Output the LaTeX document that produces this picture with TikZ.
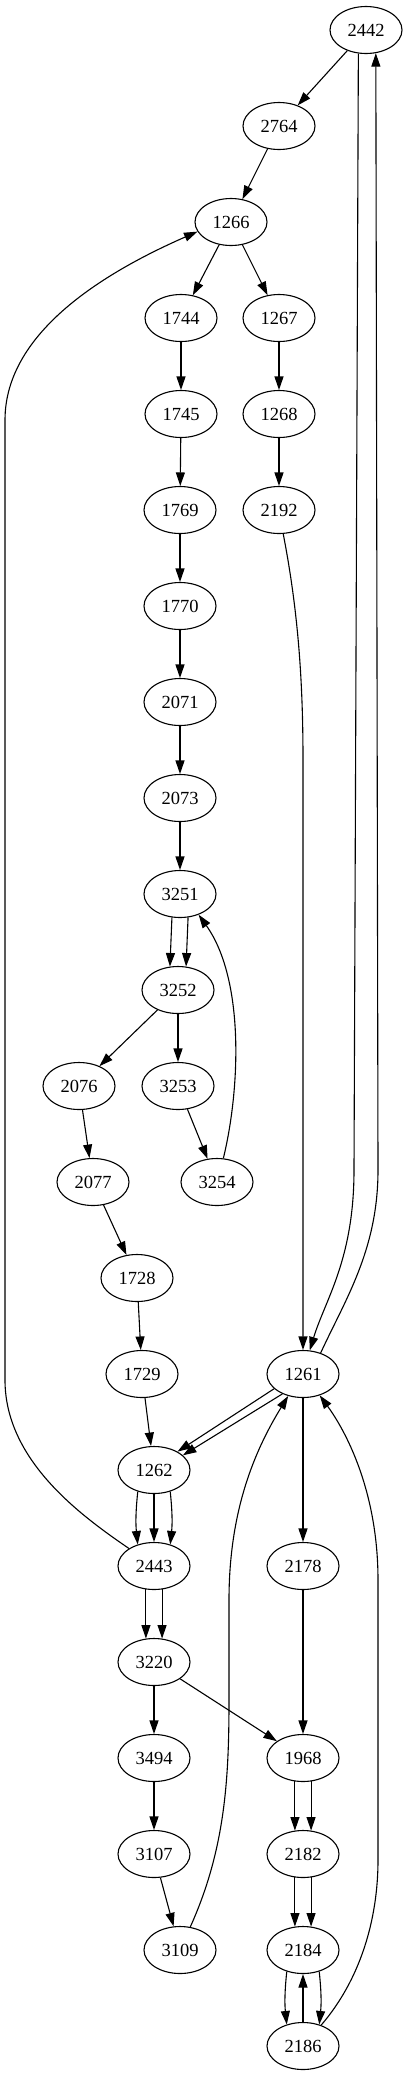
\documentclass[tikz,border=0pt]{standalone}
\usepackage{fontspec}
\setmainfont{Liberation Serif}
\usetikzlibrary{shapes.geometric,arrows.meta}
\begin{document}
\begin{tikzpicture}[x=1pt,y=-1pt,
  nd/.style={ellipse,draw,line width=1.1pt,minimum width=72pt,minimum height=47pt,inner sep=0pt,font=\fontsize{18.5}{22}\selectfont},
  arr/.style={-{Triangle[length=13.5pt,width=9pt]},line width=1.1pt}]
\useasboundingbox (0,0) rectangle (409,2075);
\node[nd] (n2442) at (366,30) {2442};
\node[nd] (n2764) at (279,126) {2764};
\node[nd] (n1266) at (231,222) {1266};
\node[nd] (n1744) at (181,318) {1744};
\node[nd] (n1267) at (279,318) {1267};
\node[nd] (n1745) at (181,414) {1745};
\node[nd] (n1268) at (279,414) {1268};
\node[nd] (n1769) at (180,510) {1769};
\node[nd] (n2192) at (279,510) {2192};
\node[nd] (n1770) at (180,606) {1770};
\node[nd] (n2071) at (180,702) {2071};
\node[nd] (n2073) at (180,798) {2073};
\node[nd] (n3251) at (180,894) {3251};
\node[nd] (n3252) at (178,990) {3252};
\node[nd] (n2076) at (79,1086) {2076};
\node[nd] (n3253) at (178,1086) {3253};
\node[nd] (n2077) at (93,1182) {2077};
\node[nd] (n3254) at (217,1182) {3254};
\node[nd] (n1728) at (137,1278) {1728};
\node[nd] (n1729) at (142,1374) {1729};
\node[nd] (n1261) at (303,1374) {1261};
\node[nd] (n1262) at (154,1470) {1262};
\node[nd] (n2443) at (154,1566) {2443};
\node[nd] (n2178) at (303,1566) {2178};
\node[nd] (n3220) at (154,1662) {3220};
\node[nd] (n3494) at (154,1758) {3494};
\node[nd] (n1968) at (303,1758) {1968};
\node[nd] (n3107) at (154,1854) {3107};
\node[nd] (n2182) at (303,1854) {2182};
\node[nd] (n3109) at (180,1950) {3109};
\node[nd] (n2184) at (303,1950) {2184};
\node[nd] (n2186) at (303,2046) {2186};
% straight edges
\draw[arr] (n2442) -- (n2764);
\draw[arr] (n2764) -- (n1266);
\draw[arr] (n1266) -- (n1744);
\draw[arr] (n1266) -- (n1267);
\draw[arr] (n1744) -- (n1745);
\draw[arr] (n1745) -- (n1769);
\draw[arr] (n1769) -- (n1770);
\draw[arr] (n1770) -- (n2071);
\draw[arr] (n2071) -- (n2073);
\draw[arr] (n2073) -- (n3251);
\draw[arr] (n1267) -- (n1268);
\draw[arr] (n1268) -- (n2192);
\draw[arr] (n3251.251) -- (n3252.109);
\draw[arr] (n3251.289) -- (n3252.71);
\draw[arr] (n3252) -- (n2076);
\draw[arr] (n3252) -- (n3253);
\draw[arr] (n3253) -- (n3254);
\draw[arr] (n2076) -- (n2077);
\draw[arr] (n2077) -- (n1728);
\draw[arr] (n1728) -- (n1729);
\draw[arr] (n1729) -- (n1262);
\draw[arr] (n1261.207) -- (n1262.38);
\draw[arr] (n1261.224) -- (n1262.27);
\draw[arr] (n1262.233) to[bend right=6] (n2443.127);
\draw[arr] (n1262.south) -- (n2443.north);
\draw[arr] (n1262.307) to[bend left=6] (n2443.53);
\draw[arr] (n2443.251) -- (n3220.109);
\draw[arr] (n2443.289) -- (n3220.71);
\draw[arr] (n1261) -- (n2178);
\draw[arr] (n2178) -- (n1968);
\draw[arr] (n3220) -- (n1968);
\draw[arr] (n3220) -- (n3494);
\draw[arr] (n3494) -- (n3107);
\draw[arr] (n3107) -- (n3109);
\draw[arr] (n1968.251) -- (n2182.109);
\draw[arr] (n1968.289) -- (n2182.71);
\draw[arr] (n2182.251) -- (n2184.109);
\draw[arr] (n2182.289) -- (n2184.71);
\draw[arr] (n2184.233) to[bend right=6] (n2186.127);
\draw[arr] (n2184.307) to[bend left=6] (n2186.53);
\draw[arr] (n2186) -- (n2184);
% curved edges
\draw[arr] (n2192.280) .. controls (298,610) and (303,680) .. (303,760) -- (n1261.north);
\draw[arr] (n2442.252) -- (354,1170) .. controls (354,1260) and (325,1300) .. (n1261.74);
\draw[arr] (n1261.50) .. controls (345,1300) and (378,1250) .. (378,1170) -- (n2442.293);
\draw[arr] (n2443.145) .. controls (80,1515) and (5,1460) .. (5,1380) -- (5,420) .. controls (5,330) and (110,270) .. (n1266.196);
\draw[arr] (n3254.75) .. controls (240,1090) and (245,980) .. (n3251.-48);
\draw[arr] (n3109.66) .. controls (225,1850) and (229,1780) .. (229,1700) -- (229,1600) .. controls (229,1510) and (255,1450) .. (n1261.236);
\draw[arr] (n2186.49) .. controls (360,1980) and (378,1920) .. (378,1860) -- (378,1580) .. controls (378,1490) and (345,1430) .. (n1261.-52);
\end{tikzpicture}
\end{document}
